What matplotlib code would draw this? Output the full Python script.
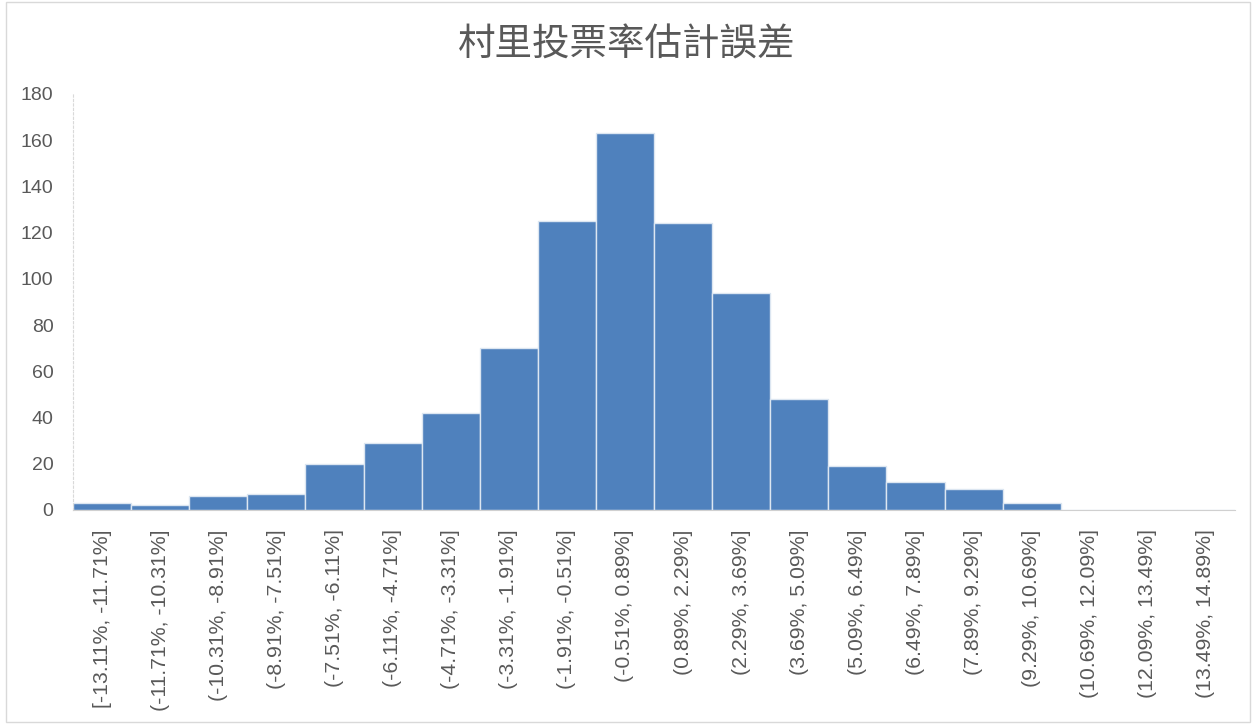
import matplotlib
matplotlib.use("Agg")
from matplotlib import pyplot as plt
from matplotlib.patches import Rectangle

# bin edges (percent) and village counts per bin
edges = [-13.11, -11.71, -10.31, -8.91, -7.51, -6.11, -4.71, -3.31, -1.91, -0.51,
         0.89, 2.29, 3.69, 5.09, 6.49, 7.89, 9.29, 10.69, 12.09, 13.49, 14.89]
counts = [3, 2, 6, 7, 20, 29, 42, 70, 125, 163, 124, 94, 48, 19, 12, 9, 3, 0, 0, 0]
title = "村里投票率估計誤差"

def binLabel(i):
    left = "[" if i == 0 else "("
    return "%s%.2f%%, %.2f%%]" % (left, edges[i], edges[i + 1])

labels = [binLabel(i) for i in range(len(counts))]

plt.rcParams['font.family'] = ['Liberation Sans', 'Noto Sans CJK TC', 'DejaVu Sans']
grey = '#595959'

fig = plt.figure(figsize=(12.53, 7.26), dpi=100)
ax = fig.add_axes([73 / 1253, 1 - 510 / 726, 1162 / 1253, 416 / 726])

# outer chart frame
fig.patches.append(Rectangle((6 / 1253, 4 / 726), 1244 / 1253, 720 / 726,
                             transform=fig.transFigure, fill=False,
                             edgecolor='#d9d9d9', linewidth=1))

x = range(len(counts))
ax.bar(x, counts, width=1.0, color='#4f81bd', edgecolor='#dce6f1', linewidth=1.0)

ax.set_xlim(-0.5, len(counts) - 0.5)
ax.set_ylim(0, 180)
ax.set_yticks(range(0, 181, 20))
ax.set_xticks(list(x))
ax.set_xticklabels(labels, rotation=90, fontsize=15.3, color=grey)
ax.tick_params(axis='y', labelsize=14, colors=grey, length=0, pad=14)
ax.tick_params(axis='x', length=0, pad=14)

for side in ['top', 'right']:
    ax.spines[side].set_visible(False)
ax.spines['bottom'].set_color('#d0d0d0')
ax.spines['bottom'].set_linestyle((0, (2, 1)))
ax.spines['left'].set_color('#d9d9d9')
ax.spines['left'].set_linestyle((0, (2, 2)))
ax.spines['left'].set_linewidth(0.8)

fig.text(0.5, 1 - 45 / 726, title, ha='center', va='center', fontsize=27,
         color=grey, family=['Noto Sans CJK TC', 'DejaVu Sans'])

fig.savefig("out.png", dpi=100)
plt.close()
